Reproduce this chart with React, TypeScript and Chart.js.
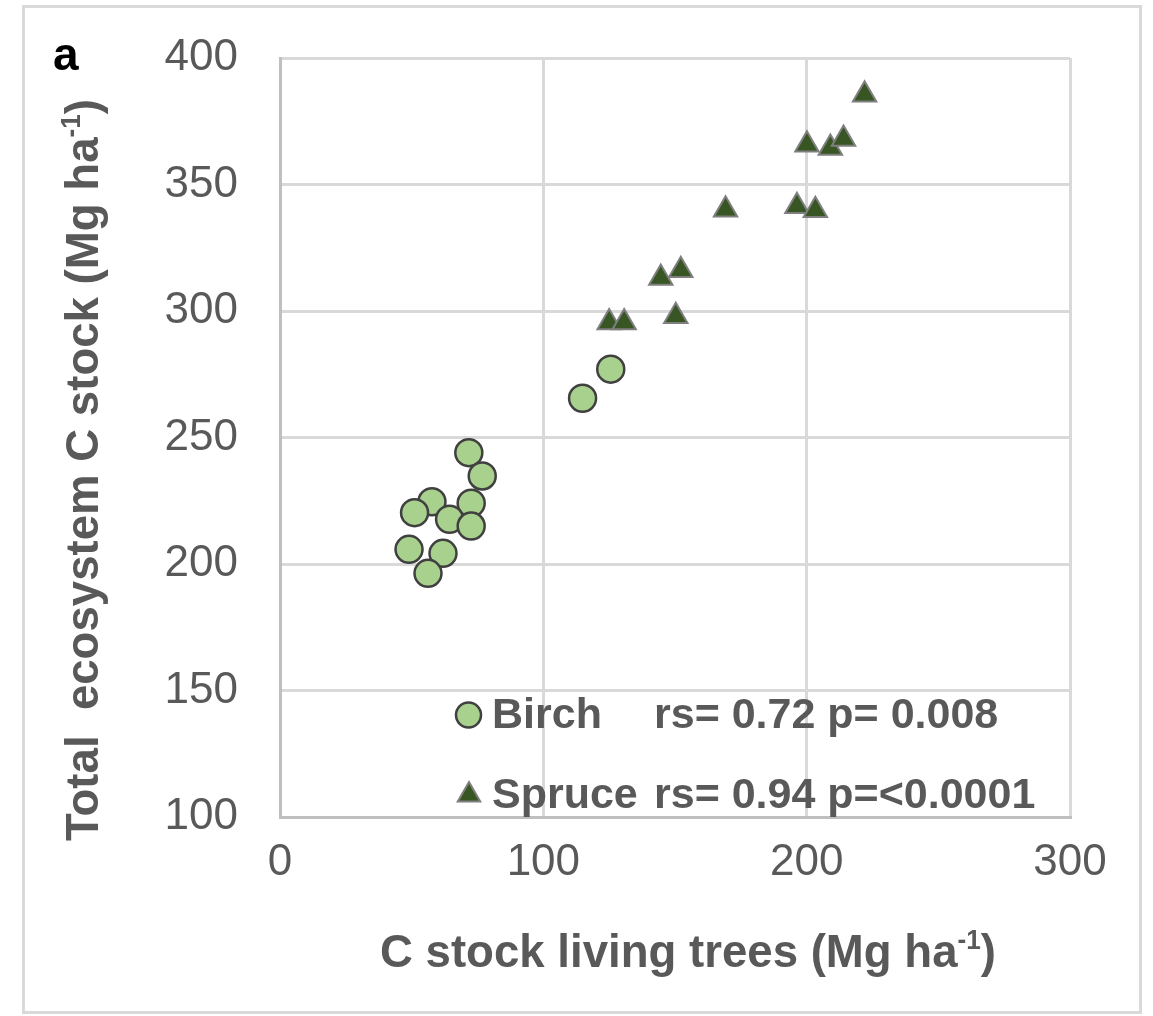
import { useEffect, useRef } from "react";
import { Chart, registerables } from "chart.js";

Chart.register(...registerables);

// C stock of living trees (x) against total ecosystem C stock (y), Mg ha-1
const birchLivingTrees = [125.6, 114.9, 71.7, 76.8, 57.7, 51.1, 72.6, 64.4, 72.6, 49.0, 61.9, 56.2];
const birchTotalEcosystem = [277.0, 265.5, 244.0, 234.8, 224.6, 220.3, 224.0, 217.7, 215.0, 205.8, 204.2, 196.3];

const spruceLivingTrees = [222.0, 200.1, 209.0, 214.0, 169.2, 196.3, 203.3, 144.6, 152.2, 150.3, 125.0, 130.7];
const spruceTotalEcosystem = [385.5, 365.7, 364.4, 368.0, 340.0, 341.4, 339.8, 313.0, 316.1, 297.9, 295.5, 295.5];

const xTickValues = [0, 100, 200, 300];
const yTickValues = [100, 150, 200, 250, 300, 350, 400];

const seriesNames = ["Birch", "Spruce"];
const seriesStats = ["rs= 0.72 p= 0.008", "rs= 0.94 p=<0.0001"];
const panelLabel = "a";

// axis titles, split so the unit exponent can be set as a superscript
const xTitleParts = [
  { text: "C stock living trees (Mg ha", sup: false },
  { text: "-1", sup: true },
  { text: ")", sup: false },
];
const yTitleParts = [
  { text: "Total  ecosystem C stock (Mg ha", sup: false },
  { text: "-1", sup: true },
  { text: ")", sup: false },
];

const FONT = '"Liberation Sans", Arial, sans-serif';
const TEXT_GREY = "#595959";
const BIRCH_FILL = "#a9d18e";
const BIRCH_EDGE = "#404040";
const SPRUCE_FILL = "#375623";
const SPRUCE_EDGE = "#7f7f7f";

type Part = { text: string; sup: boolean };

function drawRichText(ctx: CanvasRenderingContext2D, parts: Part[], size: number) {
  const mainFont = `bold ${size}px ${FONT}`;
  const supFont = `bold ${Math.round(size * 0.58)}px ${FONT}`;
  const widths = parts.map((p) => {
    ctx.font = p.sup ? supFont : mainFont;
    return ctx.measureText(p.text).width;
  });
  const total = widths.reduce((a, b) => a + b, 0);
  let x = -total / 2;
  ctx.textAlign = "left";
  ctx.textBaseline = "alphabetic";
  parts.forEach((p, i) => {
    ctx.font = p.sup ? supFont : mainFont;
    ctx.fillText(p.text, x, p.sup ? -size * 0.38 : 0);
    x += widths[i];
  });
}

const panelDecor = {
  id: "panelDecor",
  beforeDraw(chart: Chart) {
    const { ctx, width, height } = chart;
    ctx.save();
    ctx.fillStyle = "#ffffff";
    ctx.fillRect(0, 0, width, height);
    ctx.strokeStyle = "#d9d9d9";
    ctx.lineWidth = 3;
    ctx.strokeRect(23.5, 6.5, 1117, 1006);
    ctx.restore();
  },
  afterDraw(chart: Chart) {
    const { ctx } = chart;
    ctx.save();

    // panel letter
    ctx.fillStyle = "#000000";
    ctx.font = `bold 46px ${FONT}`;
    ctx.textAlign = "left";
    ctx.textBaseline = "alphabetic";
    ctx.fillText(panelLabel, 53, 70);

    // axis titles
    ctx.fillStyle = TEXT_GREY;
    ctx.save();
    ctx.translate(688, 967);
    ctx.scale(0.97, 1);
    drawRichText(ctx, xTitleParts, 47);
    ctx.restore();

    ctx.save();
    ctx.translate(98, 470);
    ctx.rotate(-Math.PI / 2);
    ctx.scale(0.97, 1);
    drawRichText(ctx, yTitleParts, 47);
    ctx.restore();

    // legend inside the plot area
    const circle = { x: 468.5, y: 715, r: 12.5 };
    ctx.beginPath();
    ctx.arc(circle.x, circle.y, circle.r, 0, Math.PI * 2);
    ctx.fillStyle = BIRCH_FILL;
    ctx.fill();
    ctx.lineWidth = 2.5;
    ctx.strokeStyle = BIRCH_EDGE;
    ctx.stroke();

    const tri = { x: 469, y: 795, r: 13 };
    ctx.beginPath();
    ctx.moveTo(tri.x, tri.y - tri.r);
    ctx.lineTo(tri.x + 0.866 * tri.r, tri.y + 0.5 * tri.r);
    ctx.lineTo(tri.x - 0.866 * tri.r, tri.y + 0.5 * tri.r);
    ctx.closePath();
    ctx.fillStyle = SPRUCE_FILL;
    ctx.fill();
    ctx.lineWidth = 2;
    ctx.strokeStyle = SPRUCE_EDGE;
    ctx.stroke();

    ctx.fillStyle = TEXT_GREY;
    ctx.font = `bold 43px ${FONT}`;
    ctx.textAlign = "left";
    ctx.textBaseline = "alphabetic";
    ctx.fillText(seriesNames[0], 492, 728);
    ctx.fillText(seriesStats[0], 654, 728);
    ctx.fillText(seriesNames[1], 492, 808);
    ctx.fillText(seriesStats[1], 654, 808);

    ctx.restore();
  },
};

export default function App() {
  const canvasRef = useRef<HTMLCanvasElement | null>(null);

  useEffect(() => {
    const canvas = canvasRef.current;
    if (!canvas) return;

    const chart = new Chart(canvas, {
      type: "scatter",
      data: {
        datasets: [
          {
            label: seriesNames[0],
            data: birchLivingTrees.map((x, i) => ({ x, y: birchTotalEcosystem[i] })),
            pointStyle: "circle",
            pointRadius: 13.5,
            pointBackgroundColor: BIRCH_FILL,
            pointBorderColor: BIRCH_EDGE,
            pointBorderWidth: 2.5,
          },
          {
            label: seriesNames[1],
            data: spruceLivingTrees.map((x, i) => ({ x, y: spruceTotalEcosystem[i] })),
            pointStyle: "triangle",
            pointRadius: 13.5,
            pointBackgroundColor: SPRUCE_FILL,
            pointBorderColor: SPRUCE_EDGE,
            pointBorderWidth: 2,
          },
        ],
      },
      options: {
        responsive: false,
        animation: false,
        events: [],
        layout: { padding: { left: 0, right: 83, top: 58, bottom: 0 } },
        plugins: {
          legend: { display: false },
          tooltip: { enabled: false },
          title: { display: false },
        },
        scales: {
          x: {
            type: "linear",
            min: 0,
            max: 300,
            afterBuildTicks: (scale: any) => {
              scale.ticks = xTickValues.map((value) => ({ value }));
            },
            afterFit: (scale: any) => {
              scale.height = 199;
            },
            grid: { color: "#d9d9d9", lineWidth: 3, drawTicks: false },
            border: { color: "#bfbfbf", width: 3 },
            ticks: {
              padding: 19,
              color: TEXT_GREY,
              font: { family: FONT, size: 44, lineHeight: 1.2 },
              maxRotation: 0,
            },
          },
          y: {
            type: "linear",
            min: 100,
            max: 400,
            afterBuildTicks: (scale: any) => {
              scale.ticks = yTickValues.map((value) => ({ value }));
            },
            afterFit: (scale: any) => {
              scale.width = 280;
            },
            grid: {
              color: "#d9d9d9",
              lineWidth: 3,
              drawTicks: true,
              tickLength: 40,
              tickColor: "rgba(0,0,0,0)",
            },
            border: { color: "#bfbfbf", width: 3 },
            ticks: {
              padding: 2,
              color: TEXT_GREY,
              font: { family: FONT, size: 44, lineHeight: 1.2 },
            },
          },
        },
      },
      plugins: [panelDecor],
    });

    return () => chart.destroy();
  }, []);

  return (
    <div style={{ position: "absolute", left: 0, top: 0, width: 1153, height: 1016 }}>
      <canvas ref={canvasRef} width={1153} height={1016} style={{ display: "block" }} />
    </div>
  );
}
